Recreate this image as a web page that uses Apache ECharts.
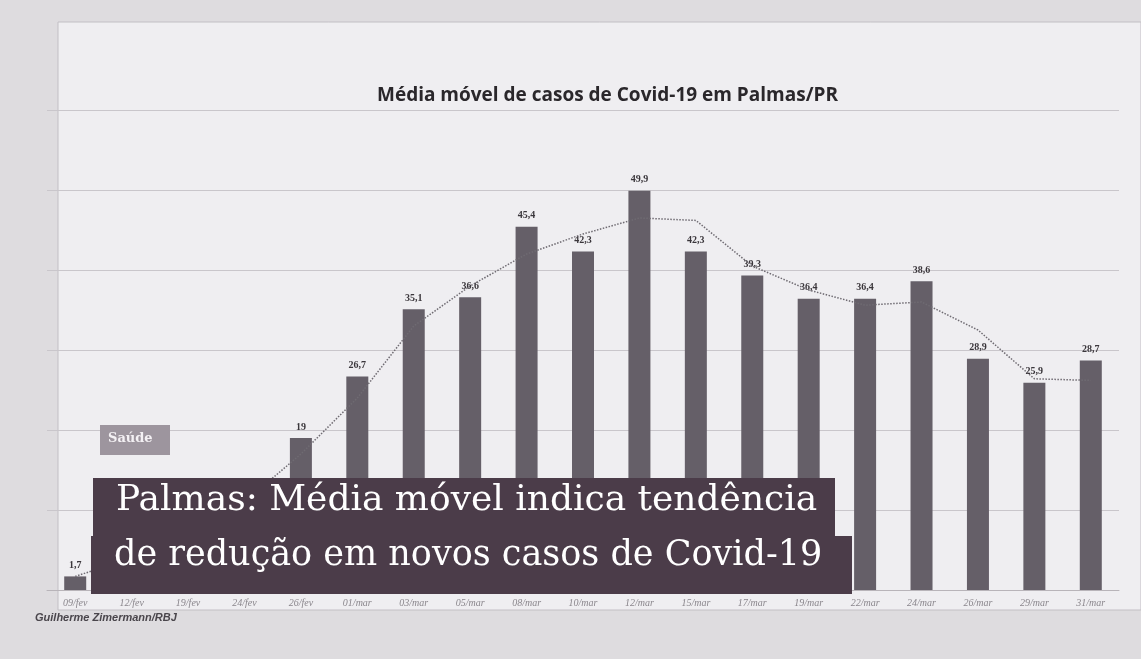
<!DOCTYPE html>
<html>
<head>
<meta charset="utf-8">
<script src="https://cdn.jsdelivr.net/npm/echarts@6/dist/echarts.min.js"></script>
<style>
html,body{margin:0;padding:0;background:#dedcdf;}
#c{width:1141px;height:659px;}
</style>
</head>
<body>
<div id="c"></div>
<script>
var categories = ['09/fev','12/fev','19/fev','24/fev','26/fev','01/mar','03/mar','05/mar','08/mar','10/mar','12/mar','15/mar','17/mar','19/mar','22/mar','24/mar','26/mar','29/mar','31/mar'];
var casos = [1.7, 4.3, 6.9, 10.9, 19, 26.7, 35.1, 36.6, 45.4, 42.3, 49.9, 42.3, 39.3, 36.4, 36.4, 38.6, 28.9, 25.9, 28.7];
var mediaMovel = [1.7, 4, 7, 11, 17, 24, 33, 38, 42, 44.5, 46.5, 46.2, 40.5, 37.5, 35.6, 36, 32.5, 26.4, 26.2];
var yTicks = [0, 10, 20, 30, 40, 50, 60];

var chart = echarts.init(document.getElementById('c'));
chart.setOption({
  backgroundColor: '#dedcdf',
  animation: false,
  title: {
    text: 'Média móvel de casos de Covid-19 em Palmas/PR',
    left: 372, top: 81,
    textStyle: {fontFamily: 'Open Sans', fontSize: 19, fontWeight: 'bold', color: '#2a272b'}
  },
  grid: {left: 47, right: 22, top: 110, bottom: 69},
  xAxis: {
    type: 'category', data: categories,
    axisLine: {lineStyle: {color: '#b8b4b9'}},
    axisTick: {show: false},
    axisLabel: {fontFamily: 'Liberation Serif', fontStyle: 'italic', fontSize: 10, color: '#8a868c', margin: 8}
  },
  yAxis: {
    type: 'value', min: yTicks[0], max: yTicks[yTicks.length - 1], interval: 10,
    axisLabel: {show: false}, axisLine: {show: false}, axisTick: {show: false},
    splitLine: {lineStyle: {color: '#c9c6cb', width: 1}}
  },
  series: [
    {
      type: 'bar', data: casos, barWidth: 22, z: 2,
      itemStyle: {color: '#655f68'},
      label: {
        show: true, position: 'top', distance: 6,
        fontFamily: 'Liberation Serif', fontSize: 10, fontWeight: 'bold', color: '#3a363b',
        formatter: function (p) { return String(p.value).replace('.', ','); }
      }
    },
    {
      type: 'line', data: mediaMovel, symbol: 'none', z: 3,
      lineStyle: {color: '#6f6b72', width: 1.5, type: 'dotted'}
    }
  ],
  graphic: [
    {type: 'rect', z: -9, silent: true,
      shape: {x: 58, y: 22, width: 1083, height: 588}, style: {fill: '#efeef1', stroke: '#c2bfc4', lineWidth: 1}},
    {type: 'rect', z: 100, silent: true,
      shape: {x: 100, y: 425, width: 70, height: 30}, style: {fill: '#9d959e'}},
    {type: 'text', z: 101, silent: true, left: 108, top: 432,
      style: {text: 'Saúde', fill: '#f4f1f4', font: 'bold 13px "DejaVu Serif"'}},
    {type: 'rect', z: 100, silent: true,
      shape: {x: 93, y: 478, width: 742, height: 62}, style: {fill: '#4b3c49'}},
    {type: 'rect', z: 100, silent: true,
      shape: {x: 91, y: 536, width: 761, height: 58}, style: {fill: '#4b3c49'}},
    {type: 'text', z: 101, silent: true, left: 116, top: 483,
      style: {text: 'Palmas: Média móvel indica tendência', fill: '#ffffff', font: '36px "DejaVu Serif"'}},
    {type: 'text', z: 101, silent: true, left: 114, top: 538,
      style: {text: 'de redução em novos casos de Covid-19', fill: '#ffffff', font: '35px "DejaVu Serif"'}},
    {type: 'text', z: 101, silent: true, left: 35, top: 612,
      style: {text: 'Guilherme Zimermann/RBJ', fill: '#4a464c', font: 'italic bold 11px "Liberation Sans"'}}
  ]
});
</script>
</body>
</html>
